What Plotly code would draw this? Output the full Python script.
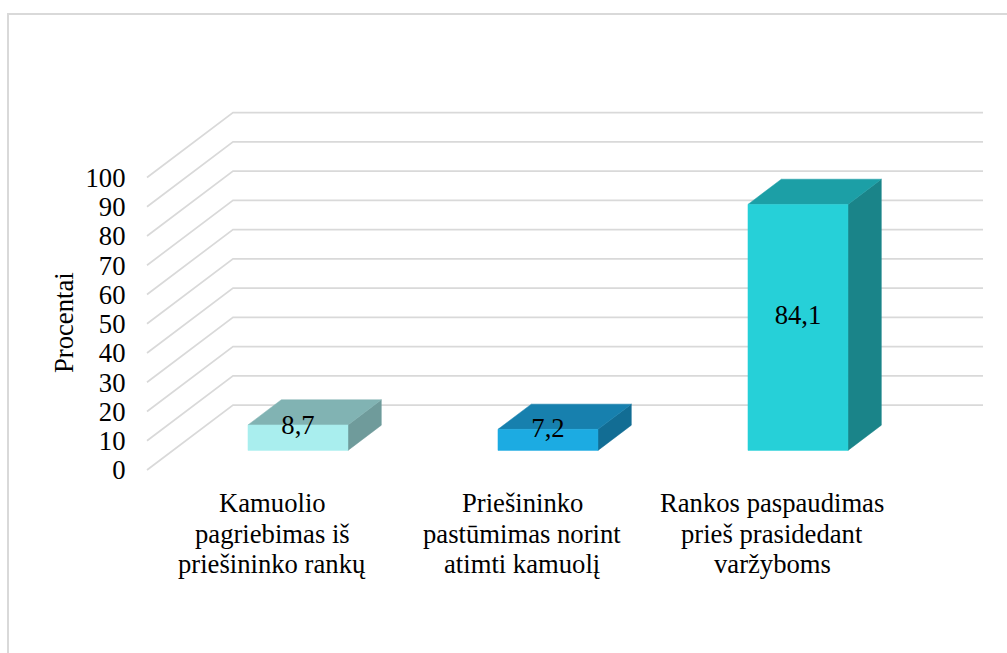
import plotly.graph_objects as go

category_lines = [["Kamuolio", "pagriebimas iš", "priešininko rankų"],
                  ["Priešininko", "pastūmimas norint", "atimti kamuolį"],
                  ["Rankos paspaudimas", "prieš prasidedant", "varžyboms"]]
values = [8.7, 7.2, 84.1]
value_labels = ["8,7", "7,2", "84,1"]
y_ticks = [0, 10, 20, 30, 40, 50, 60, 70, 80, 90, 100]
y_title = "Procentai"

front_colors = ["#A9EEEE", "#1CABE2", "#26D0D8"]
top_colors = ["#81B3B3", "#1780AE", "#1C9FA6"]
side_colors = ["#6F9B9B", "#126D94", "#1A8489"]
grid_color = "#D9D9D9"
text_color = "#000000"
font_family = "Liberation Serif"
font_size = 26.67

W, H = 1007, 653
# pseudo-3D oblique projection: depth t in [0, 1]
DEPTH_X = 0.344   # category units across the whole depth
DEPTH_Y = 22.2    # value units across the whole depth
BAR_T0, BAR_T1 = 0.302, 0.69
BAR_HALF = 0.2
LABEL_DROP = 0.9  # value units below the mid-depth centre of a bar


def proj(x, v, t):
    return x + DEPTH_X * t, v + DEPTH_Y * t


def face(points, color, line=None):
    xs, ys = zip(*[proj(*p) for p in points])
    return go.Scatter(x=list(xs) + [xs[0]], y=list(ys) + [ys[0]], mode="lines",
                      fill="toself", fillcolor=color,
                      line=dict(color=line or color, width=0.5),
                      hoverinfo="skip", showlegend=False)


fig = go.Figure()

# gridlines: side wall segment + back wall segment
for v in y_ticks:
    pts = [proj(-0.5, v, 0), proj(-0.5, v, 1), proj(2.5, v, 1)]
    fig.add_trace(go.Scatter(x=[p[0] for p in pts], y=[p[1] for p in pts], mode="lines",
                             line=dict(color=grid_color, width=1.7),
                             hoverinfo="skip", showlegend=False))

# bars
for i, v in enumerate(values):
    l, r = i - BAR_HALF, i + BAR_HALF
    fig.add_trace(face([(r, 0, BAR_T0), (r, 0, BAR_T1), (r, v, BAR_T1), (r, v, BAR_T0)], side_colors[i]))
    fig.add_trace(face([(l, v, BAR_T0), (l, v, BAR_T1), (r, v, BAR_T1), (r, v, BAR_T0)], top_colors[i]))
    fig.add_trace(face([(l, 0, BAR_T0), (r, 0, BAR_T0), (r, v, BAR_T0), (l, v, BAR_T0)], front_colors[i]))

# data labels
fig.add_trace(go.Scatter(
    x=[i + DEPTH_X * BAR_T0 for i in range(len(values))],
    y=[v / 2 + DEPTH_Y * (BAR_T0 + BAR_T1) / 2 - LABEL_DROP for v in values],
    mode="text", text=value_labels, textposition="middle center",
    textfont=dict(family=font_family, size=font_size, color=text_color),
    cliponaxis=False, hoverinfo="skip", showlegend=False))

x_px_per_unit = 250.0
x_zero_px = 272.0
y_px_per_unit = 2.925
y_zero_px = 470.0

# category labels, one annotation per line for the tight line spacing
annotations = []
line_centre_px = [503, 534, 564]
for i, lines in enumerate(category_lines):
    for j, text in enumerate(lines):
        annotations.append(dict(x=i, xref="x", y=1 - line_centre_px[j] / H, yref="paper",
                                text=text, showarrow=False, xanchor="center", yanchor="middle",
                                font=dict(family=font_family, size=font_size, color=text_color)))
annotations.append(dict(x=64 / W, xref="paper", y=1 - 323 / H, yref="paper", text=y_title,
                        textangle=-90, showarrow=False, xanchor="center", yanchor="middle",
                        font=dict(family=font_family, size=font_size, color=text_color)))

fig.update_layout(
    width=W, height=H, margin=dict(l=0, r=0, t=0, b=0),
    paper_bgcolor="white", plot_bgcolor="white", showlegend=False,
    font=dict(family=font_family, size=font_size, color=text_color),
    xaxis=dict(range=[(0 - x_zero_px) / x_px_per_unit, (W - x_zero_px) / x_px_per_unit],
               showgrid=False, zeroline=False, showline=False, ticks="", showticklabels=False),
    yaxis=dict(range=[(y_zero_px - H) / y_px_per_unit, y_zero_px / y_px_per_unit],
               tickmode="array", tickvals=y_ticks, ticktext=[str(t) for t in y_ticks],
               showgrid=False, zeroline=False, showline=False, ticks="",
               anchor="free", position=125.5 / W, automargin=False,
               tickfont=dict(family=font_family, size=font_size, color=text_color)),
    annotations=annotations,
    shapes=[dict(type="path", xref="paper", yref="paper",
                 path=f"M {8/W} 0 L {8/W} {1-14/H} L 1 {1-14/H}",
                 line=dict(color=grid_color, width=2), fillcolor="rgba(0,0,0,0)")],
)

fig.write_html("out.html", config={"displayModeBar": False},
               post_script="document.body.style.margin='0';")
